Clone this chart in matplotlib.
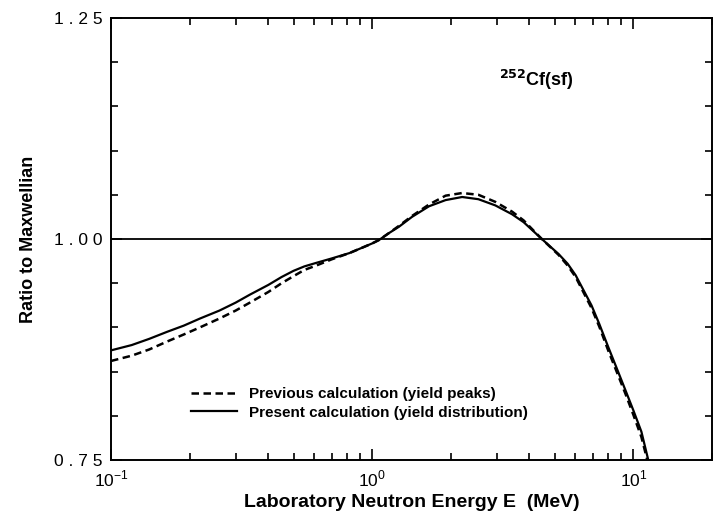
import matplotlib
matplotlib.use("Agg")
import matplotlib.pyplot as plt
from matplotlib.ticker import LogLocator, MultipleLocator, FixedLocator, FixedFormatter

plt.rcParams['font.family'] = ['Liberation Sans', 'DejaVu Sans']
plt.rcParams['mathtext.fontset'] = 'custom'
plt.rcParams['mathtext.rm'] = 'Liberation Sans'

# neutron energy (MeV) and ratio to Maxwellian
energy = [0.100, 0.120, 0.140, 0.164, 0.190, 0.219, 0.260, 0.300, 0.340, 0.400, 0.450,
          0.500, 0.550, 0.611, 0.700, 0.817, 0.930, 1.000, 1.064, 1.15, 1.268, 1.42,
          1.65, 1.91, 2.21, 2.55, 2.96, 3.43, 3.80, 4.10, 4.46, 5.17, 5.60, 6.01, 6.91,
          7.40, 8.03, 8.60, 9.32, 10.0, 10.73, 11.4]
present = [0.874, 0.880, 0.887, 0.895, 0.902, 0.910, 0.919, 0.928, 0.937, 0.948, 0.957,
           0.964, 0.969, 0.973, 0.978, 0.984, 0.991, 0.995, 0.999, 1.006, 1.014, 1.025,
           1.037, 1.044, 1.0475, 1.045, 1.038, 1.028, 1.019, 1.010, 1.000, 0.983, 0.972,
           0.959, 0.925, 0.904, 0.877, 0.855, 0.829, 0.806, 0.782, 0.750]

energy_prev = [0.100, 0.120, 0.140, 0.164, 0.190, 0.219, 0.260, 0.300, 0.340, 0.400, 0.450,
               0.500, 0.550, 0.611, 0.700, 0.817, 0.930, 1.000, 1.064, 1.15, 1.268, 1.42,
               1.65, 1.91, 2.21, 2.55, 2.96, 3.43, 3.80, 4.10, 4.46, 5.17, 5.60, 6.01, 6.91,
               7.40, 8.03, 8.60, 9.32, 10.0, 10.73, 11.3]
previous = [0.862, 0.868, 0.875, 0.884, 0.892, 0.900, 0.910, 0.919, 0.928, 0.940, 0.950,
            0.958, 0.965, 0.970, 0.977, 0.984, 0.991, 0.995, 0.999, 1.006, 1.015, 1.026,
            1.039, 1.049, 1.052, 1.050, 1.042, 1.031, 1.021, 1.011, 1.000, 0.982, 0.970,
            0.957, 0.922, 0.901, 0.873, 0.851, 0.825, 0.801, 0.776, 0.750]

fig = plt.figure(figsize=(7.19, 5.23), dpi=100)
ax = fig.add_axes([0.1544, 0.1205, 0.8359, 0.8451])

ax.plot(energy_prev, previous, color='black', lw=1.8, ls=(0, (3.0, 1.8)),
        label='Previous calculation (yield peaks)')
ax.plot(energy, present, color='black', lw=1.6,
        label='Present calculation (yield distribution)')
ax.axhline(1.0, color='black', lw=1.3)

ax.set_xscale('log')
ax.set_xlim(0.1, 20)
ax.set_ylim(0.75, 1.25)

ax.xaxis.set_major_locator(FixedLocator([0.1, 1, 10]))
ax.xaxis.set_major_formatter(FixedFormatter([r'$10^{-1}$', r'$10^{0}$', r'$10^{1}$']))
ax.xaxis.set_minor_locator(LogLocator(base=10, subs=range(2, 10), numticks=20))
ax.yaxis.set_major_locator(FixedLocator([0.75, 1.00, 1.25]))
ax.yaxis.set_major_formatter(FixedFormatter(['0 . 7 5', '1 . 0 0', '1 . 2 5']))
ax.yaxis.set_minor_locator(MultipleLocator(0.05))

ax.tick_params(which='both', direction='in', top=True, right=True, width=1.2,
               labelsize=12.5, colors='black')
ax.tick_params(which='major', length=8, pad=6)
ax.tick_params(which='minor', length=5)
for s in ax.spines.values():
    s.set_linewidth(1.4)

ax.set_xlabel('Laboratory Neutron Energy E  (MeV)', fontsize=14, fontweight='bold', labelpad=4)
ax.set_ylabel('Ratio to Maxwellian', fontsize=13, fontweight='bold', labelpad=12)

ax.text(0.645, 0.845, r'$^{\mathbf{252}}$Cf(sf)', transform=ax.transAxes,
        fontsize=13, fontweight='bold')

ax.legend(loc='lower left', bbox_to_anchor=(0.11, 0.06), frameon=False,
          handlelength=3.0, handletextpad=0.8, labelspacing=0.3,
          prop={'size': 11, 'weight': 'bold'})

fig.savefig('out.png', dpi=100)
